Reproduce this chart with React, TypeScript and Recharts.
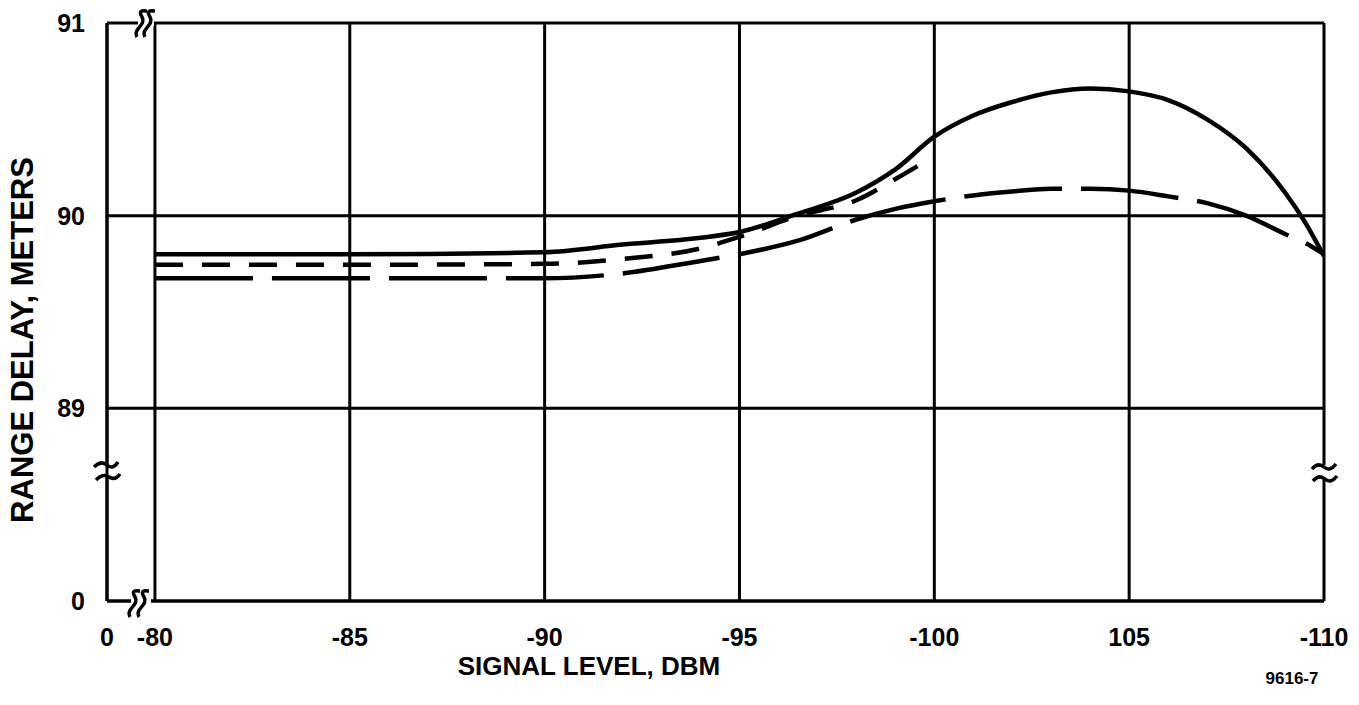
import React from 'react';
import { LineChart, Line, XAxis, YAxis, CartesianGrid, Label } from 'recharts';

// Signal level magnitude (dBm, plotted as -x)
const signalLevels = [80, 85, 90, 92, 94, 95, 96.5, 98, 99, 100, 101, 102, 103, 104, 105, 106, 107, 108, 109, 109.5, 110];
const solidDelay = [89.8, 89.8, 89.81, 89.85, 89.885, 89.915, 90.01, 90.12, 90.24, 90.41, 90.52, 90.59, 90.64, 90.66, 90.645, 90.6, 90.5, 90.35, 90.12, 89.97, 89.79];
const shortDashDelay = [89.745, 89.745, 89.75, 89.775, 89.83, 89.89, 90.0, 90.08, 90.19, 90.31, null, null, null, null, null, null, null, null, null, null, null];
const longDashDelay = [89.675, 89.675, 89.675, 89.7, 89.765, 89.8, 89.87, 89.98, 90.035, 90.075, 90.105, 90.125, 90.14, 90.14, 90.13, 90.1, 90.065, 90.0, 89.905, 89.86, 89.8];

const xTicks = [78.77, 80, 85, 90, 95, 100, 105, 110];
const xTickLabels = ['0', '-80', '-85', '-90', '-95', '-100', '105', '-110'];
const yTicks = [88, 89, 90, 91];
const yTickLabels = ['0', '89', '90', '91'];

const data = signalLevels.map((x, i) => ({
  x,
  solid: solidDelay[i],
  shortDash: shortDashDelay[i],
  longDash: longDashDelay[i],
}));

const FONT = '"Liberation Sans", Arial, Helvetica, sans-serif';
const PLOT_TOP = 23;

const sStroke = (x: number, y: number) =>
  `M ${x - 4} ${y + 14} C ${x - 9} ${y + 6}, ${x + 6} ${y + 2}, ${x + 1} ${y - 6} S ${x + 4} ${y - 12}, ${x + 6} ${y - 12}`;

const XTitle = (props: any) => {
  const vb = props.viewBox || {};
  const left = vb.x;
  const bottom = vb.y;
  const right = vb.x + vb.width;
  return (
    <g>
      <text x={589} y={675} textAnchor="middle" fontFamily={FONT} fontWeight="bold" fontSize={26} fill="#000">
        SIGNAL LEVEL, DBM
      </text>
      <text x={1292} y={684} textAnchor="middle" fontFamily={FONT} fontWeight="bold" fontSize={17} fill="#000">
        9616-7
      </text>
      {/* break marks on top and bottom borders */}
      <rect x={left + 31} y={PLOT_TOP - 3} width={16} height={6} fill="#fff" />
      <path d={sStroke(left + 34, PLOT_TOP)} stroke="#000" strokeWidth={3.5} fill="none" />
      <path d={sStroke(left + 42, PLOT_TOP)} stroke="#000" strokeWidth={3.5} fill="none" />
      <rect x={left + 24} y={bottom - 3} width={20} height={6} fill="#fff" />
      <path d={sStroke(left + 27, bottom + 2)} stroke="#000" strokeWidth={3.5} fill="none" />
      <path d={sStroke(left + 36, bottom + 2)} stroke="#000" strokeWidth={3.5} fill="none" />
      {/* break marks on left and right vertical axes */}
      <rect x={left - 4} y={464} width={8} height={14} fill="#fff" />
      <path d={`M ${left - 13} ${467} Q ${left - 6} ${460} ${left} ${465} T ${left + 11} ${462}`} stroke="#000" strokeWidth={3.5} fill="none" />
      <path d={`M ${left - 11} ${480} Q ${left - 4} ${473} ${left + 2} ${477} T ${left + 13} ${474}`} stroke="#000" strokeWidth={3.5} fill="none" />
      <rect x={right - 4} y={465} width={8} height={14} fill="#fff" />
      <path d={`M ${right - 12} ${469} Q ${right - 6} ${462} ${right} ${467} T ${right + 12} ${464}`} stroke="#000" strokeWidth={3.5} fill="none" />
      <path d={`M ${right - 11} ${481} Q ${right - 5} ${474} ${right + 1} ${479} T ${right + 13} ${476}`} stroke="#000" strokeWidth={3.5} fill="none" />
    </g>
  );
};

const YTitle = () => (
  <text
    x={22}
    y={340}
    transform="rotate(-90, 22, 340)"
    textAnchor="middle"
    dominantBaseline="central"
    fontFamily={FONT}
    fontWeight="bold"
    fontSize={31}
    fill="#000"
  >
    RANGE DELAY, METERS
  </text>
);

export default function App() {
  return (
    <div style={{ position: 'absolute', left: 0, top: 0, background: '#fff', width: 1359, height: 705 }}>
      <LineChart width={1359} height={705} data={data} margin={{ top: PLOT_TOP, right: 35, bottom: 74, left: 47 }}>
        <CartesianGrid stroke="#000" strokeWidth={3} />
        <XAxis
          dataKey="x"
          type="number"
          domain={[78.77, 110]}
          ticks={xTicks}
          interval={0}
          allowDataOverflow
          tickFormatter={(v: number) => xTickLabels[xTicks.indexOf(v)] ?? String(v)}
          axisLine={{ stroke: '#000', strokeWidth: 3 }}
          tickLine={false}
          tickSize={6}
          tickMargin={21}
          height={30}
          tick={{ fill: '#000', fontSize: 25, fontWeight: 'bold', fontFamily: FONT }}
        >
          <Label content={XTitle} />
        </XAxis>
        <YAxis
          type="number"
          domain={[88, 91]}
          ticks={yTicks}
          interval={0}
          allowDataOverflow
          tickFormatter={(v: number) => yTickLabels[yTicks.indexOf(v)] ?? String(v)}
          axisLine={{ stroke: '#000', strokeWidth: 3 }}
          tickLine={false}
          tickSize={6}
          tickMargin={16}
          width={60}
          tick={{ fill: '#000', fontSize: 25, fontWeight: 'bold', fontFamily: FONT }}
        >
          <Label content={YTitle} />
        </YAxis>
        <Line type="monotone" dataKey="solid" stroke="#000" strokeWidth={4.5} dot={false} isAnimationActive={false} />
        <Line type="monotone" dataKey="shortDash" stroke="#000" strokeWidth={4.5} strokeDasharray="28 19" dot={false} isAnimationActive={false} />
        <Line type="monotone" dataKey="longDash" stroke="#000" strokeWidth={4.5} strokeDasharray="98 19" dot={false} isAnimationActive={false} />
      </LineChart>
    </div>
  );
}
